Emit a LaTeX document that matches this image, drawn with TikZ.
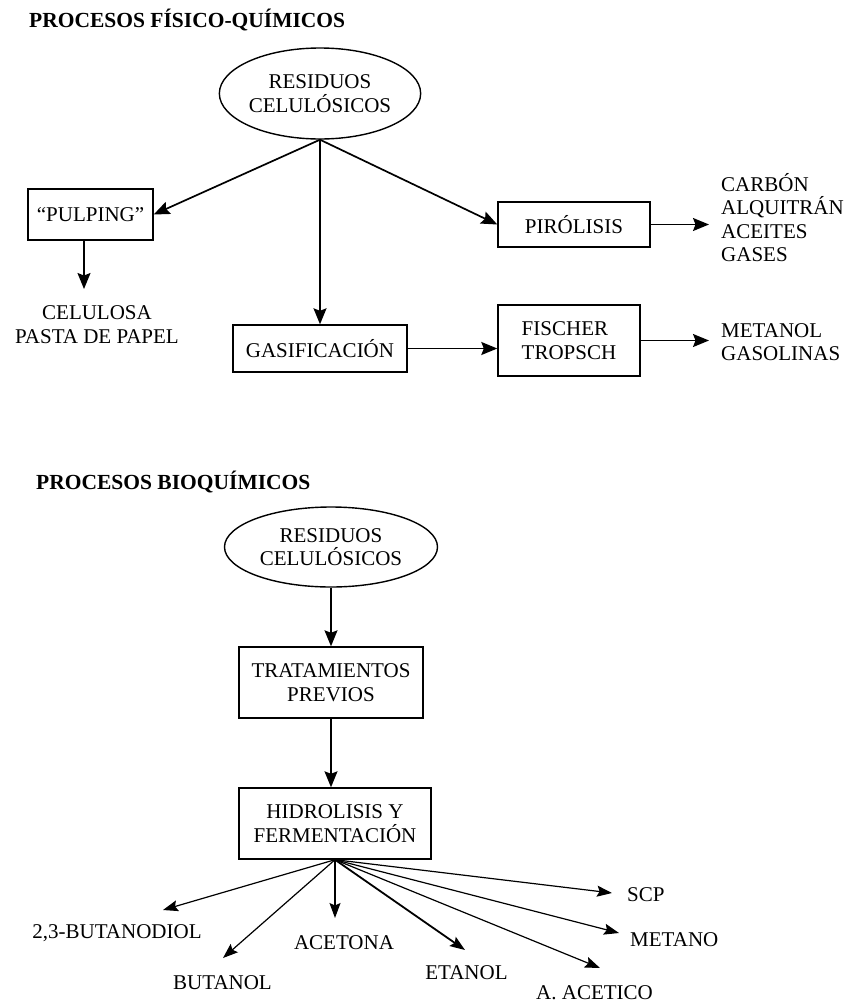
\documentclass[tikz,border=0pt]{standalone}
\usepackage{fontspec}
\setmainfont{Liberation Serif}
\usetikzlibrary{arrows.meta,shapes.geometric,calc}
\tikzset{
  txt/.style={font=\fontsize{21}{23.5}\selectfont, inner sep=0pt, align=center},
  ttl/.style={font=\fontsize{21.5}{23}\selectfont\bfseries, inner sep=0pt, anchor=west},
  ell/.style={txt, draw, ellipse, line width=1.4pt},
  box/.style={txt, draw, rectangle, line width=1.4pt},
  arr/.style={line width=1.7pt, -{Stealth[length=16pt,width=13pt,inset=2.5pt]}},
  farr/.style={line width=1.2pt, -{Stealth[length=15pt,width=11pt,inset=2.5pt]}},
}
\begin{document}
\begin{tikzpicture}[x=1pt,y=-1pt]
\useasboundingbox (0,0) rectangle (848,1004);
% ---- top section
\node[ttl] (t1) at (29,20) {PROCESOS FÍSICO-QUÍMICOS};
\node[ell, minimum width=192pt, minimum height=91pt] (ell1) at (320,93.5) {RESIDUOS\\CELULÓSICOS};
\node[box, minimum width=125pt, minimum height=51pt] (pulp) at (90.5,214.5) {“PULPING”};
\node[txt] (cel) at (97,324.5) {CELULOSA\\PASTA DE PAPEL};
\node[box, minimum width=174pt, minimum height=47pt] (gas) at (320,348.5) {GASIFICACIÓN};
\node[box, minimum width=152pt, minimum height=45pt] (piro) at (574,224.5) {PIRÓLISIS};
\node[box, align=left, minimum width=142pt, minimum height=71pt] (fis) at (569,340.5) {FISCHER\\TROPSCH};
\node[txt, align=left, anchor=west] (prod1) at (721,217.5) {CARBÓN\\ALQUITRÁN\\ACEITES\\GASES};
\node[txt, align=left, anchor=west] (prod2) at (721,342) {METANOL\\GASOLINAS};
\coordinate (celtop) at (84,289);
\draw[arr] (ell1.south) -- (pulp.east);
\draw[arr] (ell1.south) -- (gas.north);
\draw[arr] (ell1.south) -- (piro.west);
\draw[arr] (pulp.south -| celtop) -- (celtop);
\draw[arr, shorten >=12pt] (piro.east) -- (piro.east -| prod1.west);
\draw[arr] (gas.east) -- (gas.east -| fis.west);
\draw[arr, shorten >=12pt] (fis.east) -- (fis.east -| prod2.west);
% ---- bottom section
\node[ttl] (t2) at (36,482) {PROCESOS BIOQUÍMICOS};
\node[ell, minimum width=213pt, minimum height=80pt] (ell2) at (331,547) {RESIDUOS\\CELULÓSICOS};
\node[box, minimum width=184pt, minimum height=71pt] (trat) at (331,682.5) {TRATAMIENTOS\\PREVIOS};
\node[box, minimum width=192pt, minimum height=71pt] (hid) at (335,823.5) {HIDROLISIS Y\\FERMENTACIÓN};
\draw[arr, line width=1.4pt] (ell2.south) -- (ell2.south |- trat.north);
\draw[arr, line width=1.4pt] (trat.south) -- (trat.south |- hid.north);
\node[txt, anchor=west] (scp) at (627,895) {SCP};
\node[txt, anchor=west] (met) at (630,940) {METANO};
\node[txt] (ace) at (594.5,993) {A. ACETICO};
\node[txt] (eta) at (466.5,973) {ETANOL};
\node[txt] (acet) at (344,943) {ACETONA};
\node[txt] (but) at (222.5,983) {BUTANOL};
\node[txt] (bdiol) at (117,933) {2,3-BUTANODIOL};
\coordinate (eSCP) at (612,893);
\coordinate (eMET) at (619,933);
\coordinate (eACE) at (600,968);
\coordinate (eETA) at (465,950);
\coordinate (eACET) at (334,918);
\coordinate (eBUT) at (223,958);
\coordinate (eBD) at (163,910);
\draw[farr] (hid.south) -- (eSCP);
\draw[farr] (hid.south) -- (eMET);
\draw[farr] (hid.south) -- (eACE);
\draw[farr, line width=1.8pt] (hid.south) -- (eETA);
\draw[farr] (hid.south) -- (hid.south |- eACET);
\draw[farr] (hid.south) -- (eBUT);
\draw[farr] (hid.south) -- (eBD);
\end{tikzpicture}
\end{document}
